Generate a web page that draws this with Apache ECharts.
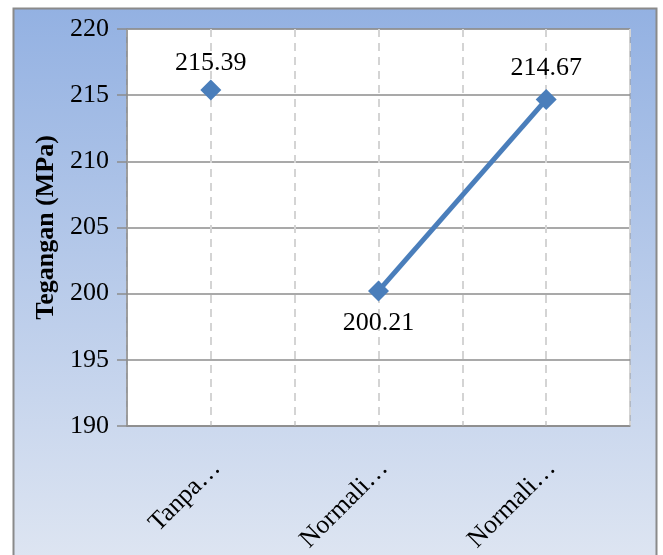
<!DOCTYPE html>
<html>
<head>
<meta charset="utf-8">
<script src="https://cdn.jsdelivr.net/npm/echarts@6/dist/echarts.min.js"></script>
<style>html,body{margin:0;padding:0;background:#fff;}#c{width:663px;height:555px;}</style>
</head>
<body>
<div id="c"></div>
<script>
const categories = ['Tanpa…', 'Normali…', 'Normali…'];
const seriesTanpa = [215.39, '-', '-'];
const seriesNormal = ['-', 200.21, 214.67];
const yTicks = { min: 190, max: 220, interval: 5 };
const yTitle = 'Tegangan (MPa)';

const chart = echarts.init(document.getElementById('c'), null, { renderer: 'canvas' });
const font = 'Liberation Serif, Times New Roman, serif';
const blue = '#4a7ebb';
const mkSeries = (data) => ({
  type: 'line',
  data: data,
  xAxisIndex: 0,
  symbol: 'diamond',
  symbolSize: 21,
  lineStyle: { color: blue, width: 5 },
  itemStyle: { color: blue },
  label: {
    show: true,
    fontFamily: font, fontSize: 26, color: '#000',
    position: 'top', distance: 3,
    formatter: (p) => p.value.toFixed(2)
  },
  animation: false
});
const s2 = mkSeries(seriesNormal);
s2.data = seriesNormal.map((v, i) => {
  if (v === '-') return '-';
  if (i === 1) return { value: v, label: { position: 'bottom', distance: 9 } };
  return { value: v, label: { distance: 8 } };
});
chart.setOption({
  animation: false,
  graphic: [{
    type: 'rect', z: -10,
    shape: { x: 13.5, y: 8.5, width: 643, height: 560 },
    style: {
      fill: new echarts.graphic.LinearGradient(0, 0, 0, 1, [
        { offset: 0, color: '#93b1e2' },
        { offset: 1, color: '#dfe6f2' }
      ]),
      stroke: '#8a8a8a', lineWidth: 2
    }
  }],
  grid: { left: 127, top: 29, right: 33, bottom: 129, outerBoundsMode: 'none', containLabel: false, show: true, backgroundColor: '#fff', borderColor: '#9a9a9a', borderWidth: 1 },
  xAxis: [{
    type: 'category', data: categories, boundaryGap: true,
    axisLine: { lineStyle: { color: '#8c8c8c', width: 1.5 } },
    axisTick: { show: false },
    splitLine: { show: false },
    axisLabel: { rotate: 45, fontFamily: font, fontSize: 26, color: '#000', margin: 44, interval: 0, padding: [0, -8, 0, 0] }
  }, {
    type: 'category', data: ['', '', '', '', '', ''], boundaryGap: true, position: 'bottom',
    axisLine: { show: false }, axisTick: { show: false }, axisLabel: { show: false },
    splitLine: { show: true, lineStyle: { color: '#d4d4d4', width: 2, type: [8, 6] } }
  }],
  yAxis: {
    type: 'value', min: yTicks.min, max: yTicks.max, interval: yTicks.interval,
    name: yTitle, nameLocation: 'middle', nameGap: 68, nameRotate: 90,
    nameTextStyle: { fontFamily: font, fontSize: 26, fontWeight: 'bold', color: '#000' },
    axisLine: { show: true, lineStyle: { color: '#8c8c8c', width: 1.5 } },
    axisTick: { show: true, length: 10, lineStyle: { color: '#8c8c8c', width: 1.5 } },
    axisLabel: { fontFamily: font, fontSize: 26, color: '#000', margin: 18 },
    splitLine: { show: true, lineStyle: { color: '#8c8c8c', width: 1.5 } }
  },
  series: [mkSeries(seriesTanpa), s2]
});
</script>
</body>
</html>
